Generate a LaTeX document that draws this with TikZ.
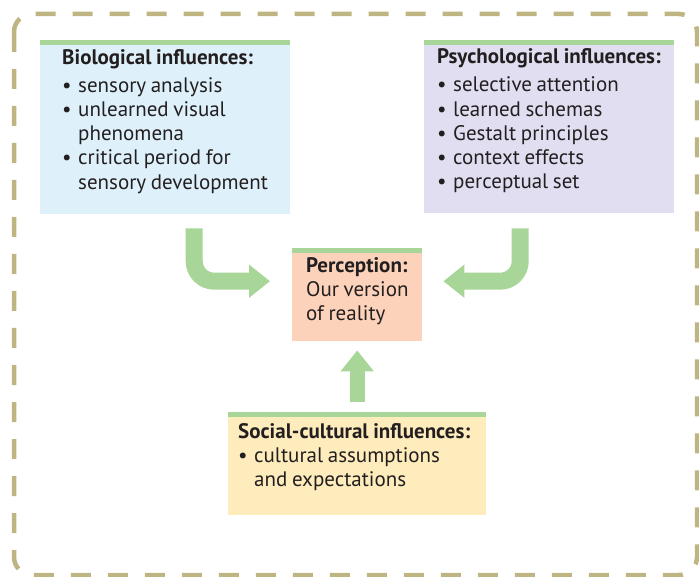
\documentclass[tikz,border=0pt]{standalone}
\usepackage{fontspec}
\setmainfont{PT Sans}
\usepackage{xcolor}
\usetikzlibrary{positioning,arrows.meta}

\definecolor{frameolive}{RGB}{190,181,130}
\definecolor{bandgreen}{RGB}{168,214,152}
\definecolor{bioblue}{RGB}{222,241,251}
\definecolor{psylav}{RGB}{224,222,240}
\definecolor{percpeach}{RGB}{252,211,186}
\definecolor{socyellow}{RGB}{254,236,188}
\definecolor{inkdark}{RGB}{35,31,32}

\newcommand{\hd}[1]{\mbox{\textbf{#1}}}
\newcommand{\itm}[1]{\mbox{\makebox[16pt][l]{\textbullet}#1}}
\newcommand{\cnt}[1]{\mbox{\hspace*{16pt}#1}}
\newcommand{\padbot}[1]{\rule[-#1]{0pt}{#1}}

\begin{document}
\begin{tikzpicture}[x=1pt,y=-1pt,
                    infobox/.style={anchor=north west,align=left,inner ysep=0pt,
                      text=inkdark,font=\fontsize{21}{24.2}\selectfont,
                      execute at begin node={\spaceskip=0.22em\relax},
                      path picture={\fill[bandgreen] (path picture bounding box.north west)
                        rectangle ([yshift=-5pt]path picture bounding box.north east);}},
                    flow/.style={draw=bandgreen,line width=17pt,rounded corners=20pt,
                      -{Triangle[length=21pt,width=32pt,color=bandgreen]}}]
    \useasboundingbox (0,0) rectangle (699,577);

    % dashed frame round everything
    \draw[frameolive,line width=4.5pt,dash pattern=on 20pt off 17pt,rounded corners=18pt]
        (14,14) rectangle (697,575);

    \node[infobox,fill=bioblue,inner xsep=22pt,text width=206pt,minimum height=174pt] (bio) at (40,40)
        {\hd{Biological influences:}\\[4pt]
         \itm{sensory analysis}\\
         \itm{unlearned visual}\\
         \cnt{phenomena}\\
         \itm{critical period for}\\
         \cnt{sensory development}\padbot{16pt}};
    \node[infobox,fill=psylav,inner xsep=13pt,text width=224pt,minimum height=173pt] (psy) at (424,40)
        {\hd{Psychological influences:}\\[4pt]
         \itm{selective attention}\\
         \itm{learned schemas}\\
         \itm{Gestalt principles}\\
         \itm{context effects}\\
         \itm{perceptual set}\padbot{16pt}};
    \node[infobox,fill=percpeach,inner xsep=14pt,text width=102pt,minimum height=93pt] (perc) at (292,248)
        {\hd{Perception:}\\
         \mbox{Our version}\\
         \mbox{of reality}\padbot{11pt}};
    \node[infobox,fill=socyellow,inner xsep=10pt,text width=238pt,minimum height=103pt] (soc) at (228,412)
        {\hd{Social-cultural influences:}\\
         \itm{cultural assumptions}\\
         \cnt{and expectations}\padbot{17pt}};

    \draw[flow] ([xshift=29pt,yshift=-14pt]bio.south) |- ([xshift=-22pt,yshift=13.5pt]perc.west);
    \draw[flow] ([xshift=-29pt,yshift=-15pt]psy.south) |- ([xshift=21pt,yshift=13.5pt]perc.east);
    \draw[flow,line width=15pt] ([yshift=10pt]soc.north) -- ([yshift=-9pt]perc.south);
\end{tikzpicture}
\end{document}
